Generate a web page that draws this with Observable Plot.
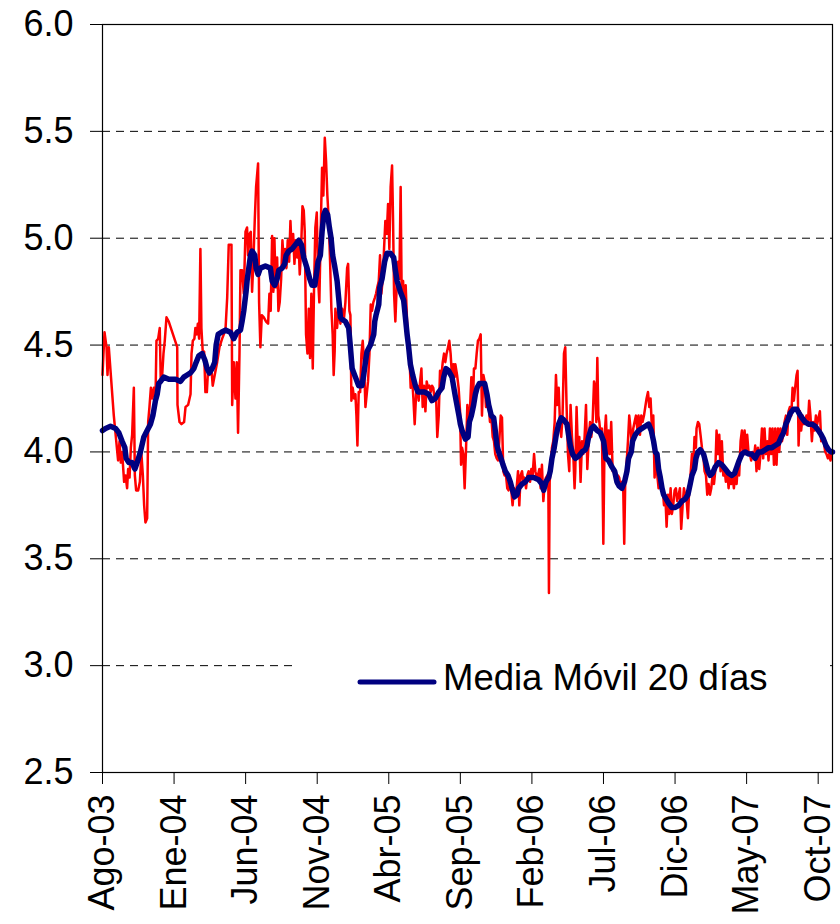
<!DOCTYPE html>
<html><head><meta charset="utf-8">
<script src="https://cdn.jsdelivr.net/npm/d3@7"></script>
<script src="https://cdn.jsdelivr.net/npm/@observablehq/plot@0.6"></script>
<style>
body{margin:0;background:#fff;}
#wrap{position:relative;width:840px;height:924px;font-family:"Liberation Sans",Arial,sans-serif;}
#legend{position:absolute;left:295px;top:636px;width:534px;height:62px;background:#fff;}
</style></head><body>
<div id="wrap"><div id="chart"></div>
<div id="legend"><svg width="534" height="62" style="display:block">
<line x1="65" y1="46" x2="139" y2="46" stroke="#000080" stroke-width="5" stroke-linecap="round"></line>
<text id="legtext" x="148" y="54" font-family="Liberation Sans, Arial, sans-serif" font-size="36.5" fill="#000"></text>
</svg></div>
</div>
<script>
// x = meses desde agosto 2003 (0 = Ago-03), y = valor
const etiquetas = ["Ago-03","Ene-04","Jun-04","Nov-04","Abr-05","Sep-05","Feb-06","Jul-06","Dic-06","May-07","Oct-07"];
const tickMeses = [0,5,10,15,20,25,30,35,40,45,50];
const yTicks = [2.5,3.0,3.5,4.0,4.5,5.0,5.5,6.0];
const gridValores = [3.0,3.5,4.0,4.5,5.0,5.5];
const leyenda = "Media Móvil 20 días";

const tasa2003 = [[0,4.36],[0.14,4.56],[0.28,4.49],[0.35,4.36],[0.44,4.49],[0.79,4.17],[1.09,3.96],[1.19,4.05],[1.28,3.95],[1.37,4.00],[1.51,3.86],[1.61,3.89],[1.72,3.83],[1.79,3.92],[1.89,3.88],[1.98,4.02],[2.07,4.08],[2.19,4.30],[2.26,3.89],[2.35,3.82],[2.49,3.82],[2.61,3.86],[2.72,3.99],[2.82,3.89],[2.91,3.75],[3.00,3.67],[3.12,3.69],[3.19,4.14],[3.28,4.21],[3.38,4.30],[3.47,4.25],[3.59,4.30],[3.70,4.24],[3.77,4.52],[3.89,4.53],[4.00,4.58],[4.07,4.33],[4.17,4.36],[4.26,4.46],[4.35,4.52],[4.47,4.63],[4.63,4.61]];
const tasa2004 = [[5.22,4.49],[5.24,4.22],[5.38,4.14],[5.52,4.13],[5.70,4.14],[5.80,4.21],[5.98,4.22],[6.15,4.27],[6.22,4.46],[6.31,4.52],[6.42,4.53],[6.49,4.58],[6.59,4.55],[6.66,4.60],[6.75,4.53],[6.84,4.95],[6.91,4.58],[7.01,4.46],[7.10,4.47],[7.19,4.28],[7.29,4.28],[7.38,4.39],[7.47,4.36],[7.61,4.39],[7.70,4.31],[7.84,4.36],[8.01,4.42],[8.17,4.49],[8.36,4.53],[8.59,4.57],[8.71,4.72],[8.82,4.97],[9.01,4.97],[9.06,4.22],[9.17,4.42],[9.29,4.25],[9.38,4.42],[9.47,4.09],[9.57,4.46],[9.64,4.85],[9.75,4.85],[9.87,4.74],[9.99,5.03],[10.10,5.05],[10.17,4.92],[10.27,5.02],[10.36,5.03],[10.45,4.75],[10.54,4.89],[10.64,5.09],[10.73,5.24],[10.87,5.35],[10.94,4.70],[11.03,4.49],[11.13,4.64],[11.27,4.63],[11.43,4.61],[11.57,4.60],[11.66,4.74],[11.75,4.66],[11.85,5.01],[11.94,4.75],[12.01,5.00],[12.10,4.77],[12.20,4.91],[12.29,4.66],[12.38,4.70],[12.48,4.81],[12.57,4.99],[12.66,4.89],[12.76,4.95],[12.85,4.86],[12.94,4.99],[13.04,4.89],[13.13,5.08],[13.22,4.94],[13.32,5.02],[13.41,4.88],[13.50,4.99],[13.59,4.91],[13.69,4.99],[13.78,4.83],[13.87,4.94],[13.97,5.15],[14.06,5.13],[14.13,5.03],[14.22,4.55],[14.32,4.46],[14.41,4.67],[14.50,4.44],[14.59,4.74],[14.69,4.39],[14.78,4.77],[14.87,5.05],[14.97,5.12],[15.06,4.81],[15.15,4.70],[15.25,5.05],[15.34,5.33],[15.43,5.20],[15.53,5.47],[15.62,5.36],[15.71,5.20],[15.81,5.08],[15.90,4.89],[15.99,4.67],[16.08,4.55],[16.15,4.36],[16.22,4.47],[16.27,4.67],[16.39,4.58],[16.50,4.69],[16.62,4.60],[16.74,4.67],[16.85,4.61],[16.97,4.70]];
const tasa2005 = [[17.09,4.86],[17.16,4.88],[17.25,4.66],[17.32,4.64],[17.39,4.24],[17.48,4.30],[17.58,4.25],[17.67,4.27],[17.74,4.17],[17.81,4.03],[17.90,4.28],[18.00,4.28],[18.09,4.46],[18.18,4.52],[18.27,4.42],[18.37,4.21],[18.46,4.27],[18.55,4.33],[18.65,4.46],[18.74,4.69],[18.83,4.66],[18.92,4.70],[19.02,4.72],[19.11,4.74],[19.20,4.77],[19.30,4.80],[19.39,4.92],[19.48,4.74],[19.58,4.81],[19.67,4.95],[19.76,5.08],[19.86,5.02],[19.95,5.16],[20.04,4.95],[20.13,5.24],[20.23,5.34],[20.30,5.08],[20.37,4.74],[20.46,4.61],[20.55,4.77],[20.65,4.89],[20.74,4.81],[20.83,5.24],[20.90,4.74],[21.00,4.80],[21.09,4.63],[21.18,4.78],[21.28,4.61],[21.35,4.53],[21.44,4.46],[21.53,4.30],[21.63,4.35],[21.72,4.25],[21.81,4.13],[21.91,4.27],[22.00,4.31],[22.09,4.24],[22.19,4.33],[22.28,4.39],[22.37,4.21],[22.46,4.31],[22.56,4.19],[22.65,4.33],[22.74,4.30],[22.84,4.31],[22.93,4.28],[23.02,4.31],[23.11,4.30],[23.21,4.24],[23.30,4.27],[23.39,4.07],[23.49,4.17],[23.58,4.38],[23.67,4.35],[23.77,4.42],[23.86,4.46],[23.95,4.42],[24.04,4.46],[24.14,4.49],[24.23,4.52],[24.32,4.46],[24.42,4.35],[24.51,4.41],[24.60,4.35],[24.65,4.41],[24.77,4.36],[24.88,4.30],[24.98,4.19],[25.05,3.94],[25.12,4.02],[25.21,3.99],[25.30,3.83],[25.40,4.02],[25.49,4.22],[25.58,4.14],[25.68,4.21],[25.77,4.35],[25.86,4.17],[25.95,4.39],[26.05,4.39],[26.14,4.46],[26.23,4.52],[26.33,4.53],[26.42,4.55],[26.51,4.17],[26.61,4.36],[26.70,4.33],[26.79,4.21],[26.89,4.25],[26.98,4.22],[27.07,4.14],[27.16,4.17],[27.26,4.07],[27.35,4.05],[27.44,3.99],[27.54,3.97],[27.63,3.96],[27.72,4.05],[27.82,4.17],[27.91,4.16],[28.00,3.91],[28.09,3.89],[28.19,3.89],[28.28,3.83],[28.37,3.82],[28.47,3.86],[28.56,3.82],[28.65,3.75],[28.75,3.83],[28.84,3.80],[28.93,3.83]];
const tasa2006 = [[29.03,3.91],[29.12,3.75],[29.21,3.89],[29.31,3.91],[29.40,3.86],[29.49,3.88],[29.59,3.83],[29.68,3.89],[29.77,3.91],[29.87,3.86],[29.96,3.92],[30.05,3.89],[30.15,3.99],[30.24,3.91],[30.33,3.88],[30.42,3.89],[30.52,3.92],[30.61,3.83],[30.70,3.94],[30.80,3.77],[30.89,3.85],[30.98,3.88],[31.08,3.89],[31.15,3.83],[31.19,3.34],[31.24,3.86],[31.31,3.92],[31.40,4.02],[31.49,4.05],[31.59,4.14],[31.68,4.36],[31.77,4.22],[31.87,4.30],[31.96,4.14],[32.05,4.07],[32.14,4.17],[32.24,4.46],[32.33,4.49],[32.42,4.22],[32.52,3.99],[32.61,3.91],[32.70,4.22],[32.80,4.07],[32.89,3.99],[32.98,3.83],[33.03,3.91],[33.12,4.21],[33.22,3.99],[33.31,4.07],[33.40,3.86],[33.50,4.05],[33.59,3.99],[33.68,4.07],[33.78,4.22],[33.87,3.92],[33.96,4.05],[34.06,4.14],[34.15,4.07],[34.24,4.14],[34.34,4.33],[34.43,4.30],[34.50,4.14],[34.57,4.44],[34.64,4.17],[34.71,4.14],[34.80,4.08],[34.89,4.11],[34.99,3.57],[35.08,4.08],[35.17,4.17],[35.27,3.99],[35.36,4.10],[35.45,3.99],[35.54,4.14],[35.64,3.91],[35.73,3.92],[35.82,3.89],[35.92,3.85],[36.01,3.89],[36.10,3.88],[36.20,3.83],[36.29,3.86],[36.38,3.83],[36.45,3.57],[36.52,3.86],[36.61,3.94],[36.71,4.05],[36.80,4.17],[36.89,4.11],[36.99,4.02],[37.08,4.11],[37.17,4.14],[37.27,4.17],[37.36,4.11],[37.45,4.17],[37.55,4.08],[37.64,4.17],[37.73,4.14],[37.83,4.17],[37.92,4.21],[38.01,4.25],[38.11,4.28],[38.20,4.21],[38.29,4.25],[38.39,4.10],[38.48,4.17],[38.57,3.88],[38.67,3.99],[38.76,3.89],[38.85,3.83],[38.95,3.88],[39.04,3.82],[39.13,3.83],[39.23,3.75],[39.32,3.80],[39.41,3.65],[39.51,3.80],[39.60,3.71],[39.69,3.83],[39.78,3.71],[39.87,3.75],[39.97,3.82],[40.06,3.83],[40.15,3.77],[40.25,3.80],[40.34,3.83],[40.43,3.64],[40.53,3.75],[40.62,3.83],[40.71,3.80],[40.81,3.77],[40.90,3.69]];
const tasa2007 = [[40.99,3.83],[41.08,3.89],[41.18,3.99],[41.27,3.92],[41.36,4.07],[41.46,4.02],[41.50,4.11],[41.60,4.14],[41.69,4.13],[41.78,4.08],[41.88,4.02],[41.97,3.99],[42.06,3.91],[42.16,3.89],[42.25,3.80],[42.34,3.85],[42.44,3.80],[42.53,3.83],[42.62,3.89],[42.72,3.85],[42.81,3.91],[42.90,4.10],[43.00,3.99],[43.09,4.08],[43.18,3.91],[43.27,4.05],[43.37,3.89],[43.46,3.92],[43.55,3.86],[43.65,3.91],[43.74,3.83],[43.83,3.89],[43.92,3.85],[44.02,3.89],[44.11,3.83],[44.20,3.89],[44.30,3.85],[44.39,3.94],[44.48,3.89],[44.58,4.05],[44.67,4.10],[44.76,3.99],[44.86,4.10],[44.95,3.99],[45.04,4.08],[45.13,4.00],[45.23,3.99],[45.32,3.96],[45.41,4.00],[45.51,3.97],[45.60,4.03],[45.69,3.91],[45.79,4.02],[45.88,3.92],[45.97,3.99],[46.07,4.11],[46.16,3.97],[46.25,4.11],[46.35,3.99],[46.44,4.05],[46.53,3.96],[46.63,4.11],[46.72,3.99],[46.81,4.11],[46.91,3.94],[47.00,4.11],[47.09,3.94],[47.19,4.11],[47.28,4.00],[47.37,4.11],[47.47,4.05],[47.56,4.08],[47.65,4.14],[47.75,4.17],[47.84,4.08],[47.93,4.19],[48.02,4.21],[48.12,4.17],[48.21,4.30],[48.30,4.24],[48.39,4.30],[48.49,4.36],[48.56,4.38],[48.63,4.03],[48.72,4.19],[48.81,4.10],[48.91,4.17],[49.00,4.13],[49.09,4.14],[49.18,4.17],[49.28,4.13],[49.37,4.24],[49.46,4.17],[49.56,4.05],[49.65,4.14],[49.74,4.10],[49.84,4.17],[49.93,4.13],[50.02,4.16],[50.12,4.19],[50.21,4.05],[50.30,4.07],[50.39,4.05],[50.49,4.00],[50.58,3.99],[50.68,3.97],[50.77,3.99],[50.86,3.96],[50.95,3.99]];

const media2003 = [[0,4.10],[0.21,4.11],[0.56,4.12],[0.91,4.11],[1.14,4.09],[1.37,4.05],[1.56,4.02],[1.65,3.97],[1.84,3.95],[2.07,3.95],[2.26,3.92],[2.42,3.95],[2.65,4.00],[2.89,4.07],[3.12,4.10],[3.35,4.13],[3.52,4.17],[3.70,4.24],[3.82,4.27],[3.93,4.32],[4.05,4.33],[4.28,4.35],[4.63,4.34]];
const media2004 = [[5.10,4.34],[5.45,4.33],[5.68,4.35],[5.91,4.36],[6.15,4.37],[6.38,4.39],[6.49,4.41],[6.73,4.45],[6.96,4.46],[7.15,4.43],[7.31,4.39],[7.47,4.37],[7.66,4.39],[7.84,4.42],[7.94,4.50],[8.08,4.55],[8.31,4.56],[8.59,4.57],[8.94,4.56],[9.17,4.53],[9.40,4.56],[9.64,4.57],[9.75,4.61],[9.87,4.66],[9.94,4.70],[10.03,4.75],[10.10,4.80],[10.22,4.86],[10.34,4.92],[10.45,4.94],[10.64,4.92],[10.73,4.86],[10.87,4.83],[11.03,4.86],[11.38,4.87],[11.73,4.86],[11.85,4.80],[12.03,4.78],[12.20,4.81],[12.31,4.85],[12.55,4.86],[12.73,4.88],[12.83,4.92],[13.01,4.94],[13.25,4.95],[13.48,4.97],[13.71,4.99],[13.90,4.97],[14.06,4.91],[14.29,4.86],[14.48,4.81],[14.64,4.78],[14.83,4.78],[14.94,4.83],[15.06,4.89],[15.22,4.92],[15.34,5.03],[15.46,5.11],[15.57,5.13],[15.73,5.11],[15.85,5.05],[15.97,5.00],[16.08,4.92],[16.22,4.87],[16.39,4.80],[16.50,4.72],[16.62,4.63],[16.74,4.62],[16.97,4.61]];
const media2005 = [[17.20,4.58],[17.32,4.49],[17.44,4.39],[17.67,4.35],[17.90,4.31],[18.13,4.31],[18.25,4.36],[18.37,4.42],[18.48,4.47],[18.72,4.50],[18.95,4.55],[19.02,4.61],[19.11,4.64],[19.30,4.69],[19.37,4.77],[19.53,4.81],[19.71,4.89],[19.88,4.93],[20.11,4.93],[20.34,4.91],[20.46,4.85],[20.58,4.80],[20.81,4.75],[21.04,4.71],[21.16,4.63],[21.28,4.55],[21.39,4.49],[21.51,4.41],[21.67,4.36],[21.86,4.31],[22.04,4.28],[22.28,4.28],[22.51,4.28],[22.79,4.27],[23.02,4.24],[23.25,4.25],[23.49,4.28],[23.72,4.30],[23.84,4.35],[24.00,4.39],[24.18,4.38],[24.42,4.35],[24.65,4.26],[24.90,4.17],[25.00,4.13],[25.12,4.10],[25.35,4.06],[25.54,4.07],[25.63,4.14],[25.77,4.17],[25.93,4.22],[26.05,4.27],[26.17,4.30],[26.33,4.32],[26.51,4.32],[26.70,4.32],[26.86,4.27],[26.98,4.22],[27.16,4.17],[27.33,4.16],[27.44,4.10],[27.56,4.03],[27.68,4.00],[27.84,3.97],[27.98,3.94],[28.14,3.91],[28.33,3.89],[28.49,3.86],[28.65,3.82],[28.79,3.79],[28.96,3.80]];
const media2006 = [[29.07,3.83],[29.31,3.85],[29.54,3.86],[29.77,3.88],[30.12,3.88],[30.47,3.87],[30.70,3.85],[30.82,3.82],[30.98,3.86],[31.17,3.88],[31.28,3.91],[31.40,3.97],[31.56,4.02],[31.70,4.08],[31.87,4.13],[32.05,4.16],[32.22,4.15],[32.45,4.13],[32.56,4.08],[32.68,4.03],[32.84,3.99],[33.03,3.97],[33.26,3.98],[33.50,4.00],[33.73,4.01],[33.85,4.03],[33.96,4.07],[34.15,4.11],[34.31,4.12],[34.55,4.10],[34.78,4.09],[35.01,4.05],[35.17,3.97],[35.36,3.96],[35.59,3.93],[35.78,3.91],[35.94,3.86],[36.10,3.84],[36.29,3.83],[36.47,3.86],[36.64,3.91],[36.75,3.97],[36.94,4.00],[37.03,4.05],[37.22,4.08],[37.45,4.10],[37.69,4.11],[37.92,4.12],[38.15,4.13],[38.34,4.10],[38.50,4.05],[38.62,4.00],[38.74,3.99],[38.85,3.92],[38.97,3.88],[39.09,3.83],[39.20,3.80],[39.37,3.78],[39.55,3.76],[39.78,3.74],[40.01,3.74],[40.25,3.75],[40.48,3.77],[40.71,3.78],[40.90,3.80]];
const media2007 = [[41.06,3.85],[41.18,3.89],[41.36,3.92],[41.46,3.97],[41.60,4.00],[41.76,4.01],[41.99,3.99],[42.11,3.96],[42.30,3.91],[42.46,3.89],[42.62,3.90],[42.81,3.93],[43.04,3.95],[43.27,3.94],[43.51,3.92],[43.74,3.90],[43.97,3.89],[44.16,3.90],[44.32,3.93],[44.48,3.96],[44.67,3.99],[44.90,4.00],[45.13,3.99],[45.37,3.99],[45.60,3.97],[45.83,4.00],[46.07,4.00],[46.30,4.01],[46.53,4.02],[46.77,4.02],[47.00,4.03],[47.23,4.04],[47.42,4.07],[47.58,4.09],[47.74,4.13],[47.88,4.15],[48.04,4.18],[48.27,4.20],[48.51,4.20],[48.67,4.18],[48.86,4.16],[49.09,4.14],[49.32,4.13],[49.56,4.13],[49.79,4.12],[50.02,4.10],[50.21,4.08],[50.37,4.06],[50.54,4.03],[50.72,4.01],[50.91,4.00],[51.0,4.00]];

const tasa = [...tasa2003, ...tasa2004, ...tasa2005, ...tasa2006, ...tasa2007].map(([m, v]) => ({m, v}));
const media = [...media2003, ...media2004, ...media2005, ...media2006, ...media2007].map(([m, v]) => ({m, v}));

const fuente = "'Liberation Sans', Arial, Helvetica, sans-serif";
const chart = Plot.plot({
  width: 840, height: 924,
  marginLeft: 102, marginRight: 8, marginTop: 24, marginBottom: 152,
  style: {fontFamily: fuente, fontSize: "36px", color: "#000", background: "#fff", overflow: "visible"},
  x: {type: "linear", domain: [0, 51]},
  y: {domain: [2.5, 6]},
  marks: [
    Plot.gridY(gridValores, {stroke: "#000", strokeOpacity: 1, strokeWidth: 1, strokeDasharray: "8,6"}),
    Plot.line(tasa, {x: "m", y: "v", stroke: "#ff0000", strokeWidth: 2.5, strokeLinejoin: "round"}),
    Plot.line(media, {x: "m", y: "v", stroke: "#000080", strokeWidth: 5.5, strokeLinejoin: "round", strokeLinecap: "round"}),
    Plot.frame({stroke: "#000", strokeWidth: 1.2}),
    Plot.axisY({ticks: yTicks, tickFormat: d3.format(".1f"), tickSize: 12, tickPadding: 17, fontSize: 36, label: null, stroke: "#000", fill: "#000"}),
    Plot.axisX({ticks: tickMeses, tickFormat: d => etiquetas[tickMeses.indexOf(d)], tickRotate: -90, tickSize: 12, tickPadding: 10, fontSize: 36, label: null, stroke: "#000", fill: "#000"})
  ]
});
document.getElementById("chart").appendChild(chart);
document.getElementById("legtext").textContent = leyenda;
</script>
</body></html>
